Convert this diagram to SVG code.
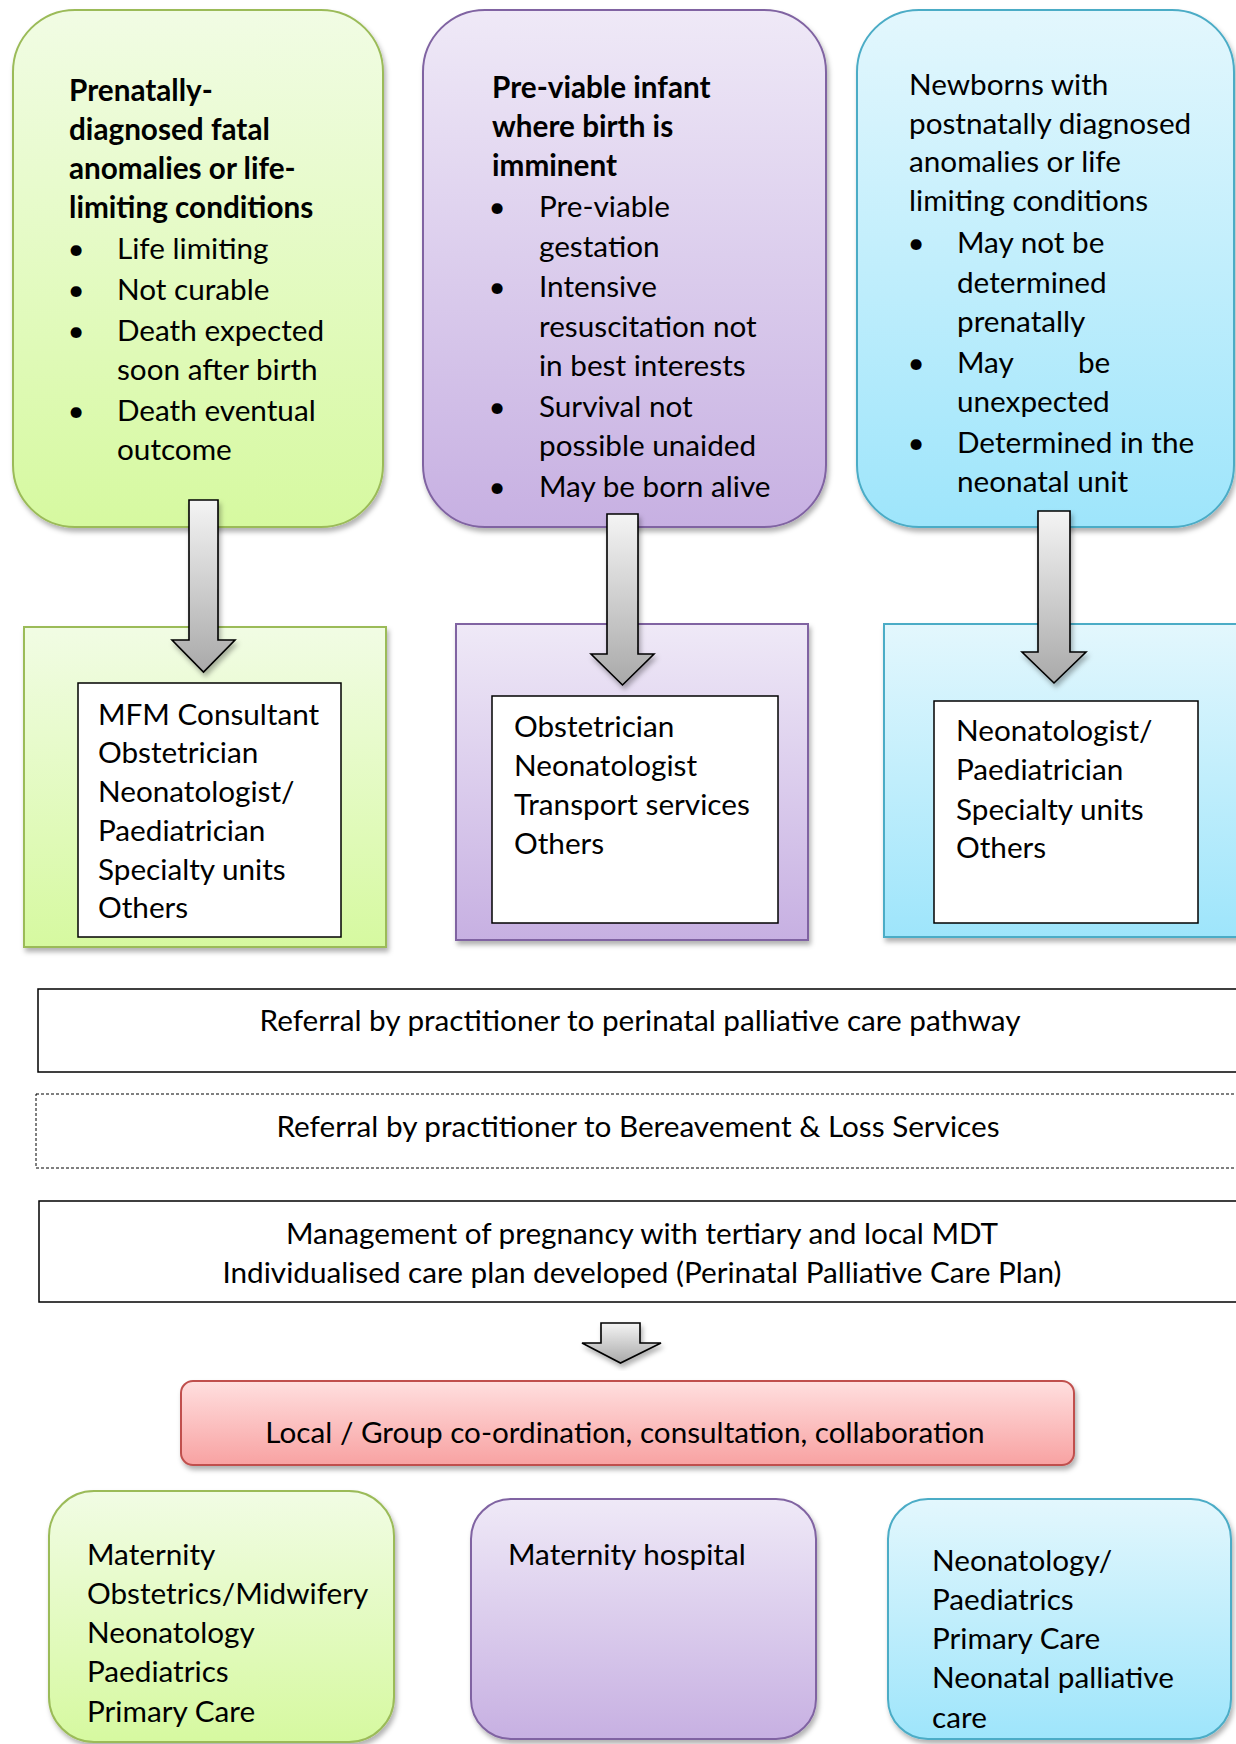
<svg xmlns="http://www.w3.org/2000/svg" width="1236" height="1744" viewBox="0 0 1236 1744">
<defs>
<linearGradient id="gG" x1="0" y1="0" x2="0" y2="1"><stop offset="0" stop-color="#f1fce4"/><stop offset="1" stop-color="#d6f9a0"/></linearGradient>
<linearGradient id="gP" x1="0" y1="0" x2="0" y2="1"><stop offset="0" stop-color="#efe9f7"/><stop offset="1" stop-color="#c7b0e2"/></linearGradient>
<linearGradient id="gB" x1="0" y1="0" x2="0" y2="1"><stop offset="0" stop-color="#e3f7fd"/><stop offset="1" stop-color="#9ee5fb"/></linearGradient>
<linearGradient id="gR" x1="0" y1="0" x2="0" y2="1"><stop offset="0" stop-color="#ffdfdf"/><stop offset="1" stop-color="#f8a2a2"/></linearGradient>
<linearGradient id="gA" x1="0" y1="0" x2="0" y2="1"><stop offset="0" stop-color="#f4f4f4"/><stop offset="1" stop-color="#a9a9a9"/></linearGradient>
<filter id="sh" x="-10%" y="-10%" width="130%" height="130%"><feDropShadow dx="2" dy="4" stdDeviation="2.5" flood-color="#000" flood-opacity="0.3"/></filter>
</defs>
<style>
.t{font-family:Lato,"Liberation Sans",sans-serif;font-size:29.7px;fill:#000}
.b{font-weight:700}
.m{text-anchor:middle}
.gs{stroke:#9bbb59;stroke-width:2}
.ps{stroke:#8064a2;stroke-width:2}
.bs{stroke:#4bacc6;stroke-width:2}
.wb{fill:#fff;stroke:#000;stroke-width:1.5}
.lb{fill:#fff;stroke:#000;stroke-width:1.5}
.arr{fill:url(#gA);stroke:#000;stroke-width:1.6;stroke-linejoin:miter}
</style>
<rect width="1236" height="1744" fill="#fff"/>

<g id="top-green">
<rect x="13" y="10" width="370" height="517" rx="62" fill="url(#gG)" class="gs" filter="url(#sh)"/>
<text class="t b" x="69" y="101">Prenatally-</text>
<text class="t b" x="69" y="140">diagnosed fatal</text>
<text class="t b" x="69" y="179">anomalies or life-</text>
<text class="t b" x="69" y="218">limiting conditions</text>
<text class="t m" x="76" y="259">•</text><text class="t" x="117" y="259">Life limiting</text>
<text class="t m" x="76" y="300">•</text><text class="t" x="117" y="300">Not curable</text>
<text class="t m" x="76" y="341">•</text><text class="t" x="117" y="341">Death expected</text>
<text class="t" x="117" y="380">soon after birth</text>
<text class="t m" x="76" y="421">•</text><text class="t" x="117" y="421">Death eventual</text>
<text class="t" x="117" y="460">outcome</text>
</g>

<g id="top-purple">
<rect x="423" y="10" width="403" height="517" rx="62" fill="url(#gP)" class="ps" filter="url(#sh)"/>
<text class="t b" x="492" y="98">Pre-viable infant</text>
<text class="t b" x="492" y="137">where birth is</text>
<text class="t b" x="492" y="176">imminent</text>
<text class="t m" x="497" y="217">•</text><text class="t" x="539" y="217">Pre-viable</text>
<text class="t" x="539" y="257">gestation</text>
<text class="t m" x="497" y="297">•</text><text class="t" x="539" y="297">Intensive</text>
<text class="t" x="539" y="337">resuscitation not</text>
<text class="t" x="539" y="376">in best interests</text>
<text class="t m" x="497" y="417">•</text><text class="t" x="539" y="417">Survival not</text>
<text class="t" x="539" y="456">possible unaided</text>
<text class="t m" x="497" y="497">•</text><text class="t" x="539" y="497">May be born alive</text>
</g>

<g id="top-blue">
<rect x="857" y="10" width="377" height="517" rx="62" fill="url(#gB)" class="bs" filter="url(#sh)"/>
<text class="t" x="909" y="95">Newborns with</text>
<text class="t" x="909" y="134">postnatally diagnosed</text>
<text class="t" x="909" y="172">anomalies or life</text>
<text class="t" x="909" y="211">limiting conditions</text>
<text class="t m" x="916" y="253">•</text><text class="t" x="957" y="253">May not be</text>
<text class="t" x="957" y="293">determined</text>
<text class="t" x="957" y="332">prenatally</text>
<text class="t m" x="916" y="373">•</text><text class="t" x="957" y="373">May</text><text class="t" x="1078" y="373">be</text>
<text class="t" x="957" y="412">unexpected</text>
<text class="t m" x="916" y="453">•</text><text class="t" x="957" y="453">Determined in the</text>
<text class="t" x="957" y="492">neonatal unit</text>
</g>

<g id="team-green">
<rect x="24" y="627" width="362" height="320" fill="url(#gG)" class="gs" filter="url(#sh)"/>
<rect x="78" y="683" width="263" height="254" class="wb"/>
<text class="t" x="98" y="725">MFM Consultant</text>
<text class="t" x="98" y="763">Obstetrician</text>
<text class="t" x="98" y="802">Neonatologist/</text>
<text class="t" x="98" y="841">Paediatrician</text>
<text class="t" x="98" y="880">Specialty units</text>
<text class="t" x="98" y="918">Others</text>
</g>

<g id="team-purple">
<rect x="456" y="624" width="352" height="316" fill="url(#gP)" class="ps" filter="url(#sh)"/>
<rect x="492" y="696" width="286" height="227" class="wb"/>
<text class="t" x="514" y="737">Obstetrician</text>
<text class="t" x="514" y="776">Neonatologist</text>
<text class="t" x="514" y="815">Transport services</text>
<text class="t" x="514" y="854">Others</text>
</g>

<g id="team-blue">
<rect x="884" y="624" width="360" height="313" fill="url(#gB)" class="bs" filter="url(#sh)"/>
<rect x="934" y="701" width="264" height="222" class="wb"/>
<text class="t" x="956" y="741">Neonatologist/</text>
<text class="t" x="956" y="780">Paediatrician</text>
<text class="t" x="956" y="820">Specialty units</text>
<text class="t" x="956" y="858">Others</text>
</g>

<g id="referral-pathway">
<rect x="38" y="989" width="1220" height="83" class="lb"/>
<text class="t m" x="640" y="1031">Referral by practitioner to perinatal palliative care pathway</text>
</g>

<g id="referral-bereavement">
<rect x="36" y="1094" width="1222" height="74" fill="#fff" stroke="#000" stroke-width="1" stroke-dasharray="3 2"/>
<text class="t m" x="638" y="1137">Referral by practitioner to Bereavement &amp; Loss Services</text>
</g>

<g id="management">
<rect x="39" y="1201" width="1220" height="101" class="lb"/>
<text class="t m" x="642" y="1244">Management of pregnancy with tertiary and local MDT</text>
<text class="t m" x="642" y="1283">Individualised care plan developed (Perinatal Palliative Care Plan)</text>
</g>

<g id="coordination">
<rect x="181" y="1381" width="893" height="84" rx="12" fill="url(#gR)" stroke="#c0504d" stroke-width="2" filter="url(#sh)"/>
<text class="t m" x="625" y="1443">Local / Group co-ordination, consultation, collaboration</text>
</g>

<g id="services-green">
<rect x="49" y="1491" width="345" height="251" rx="45" fill="url(#gG)" class="gs" filter="url(#sh)"/>
<text class="t" x="87" y="1565">Maternity</text>
<text class="t" x="87" y="1604">Obstetrics/Midwifery</text>
<text class="t" x="87" y="1643">Neonatology</text>
<text class="t" x="87" y="1682">Paediatrics</text>
<text class="t" x="87" y="1722">Primary Care</text>
</g>

<g id="services-purple">
<rect x="471" y="1499" width="345" height="240" rx="40" fill="url(#gP)" class="ps" filter="url(#sh)"/>
<text class="t" x="508" y="1565">Maternity hospital</text>
</g>

<g id="services-blue">
<rect x="888" y="1499" width="343" height="240" rx="40" fill="url(#gB)" class="bs" filter="url(#sh)"/>
<text class="t" x="932" y="1571">Neonatology/</text>
<text class="t" x="932" y="1610">Paediatrics</text>
<text class="t" x="932" y="1649">Primary Care</text>
<text class="t" x="932" y="1688">Neonatal palliative</text>
<text class="t" x="932" y="1728">care</text>
</g>

<g id="connectors">
<path class="arr" filter="url(#sh)" d="M189,500 L218,500 L218,640 L235,640 L203.5,672 L172,640 L189,640 Z"/>
<path class="arr" filter="url(#sh)" d="M607,514 L638,514 L638,654 L654,654 L622.5,685 L591,654 L607,654 Z"/>
<path class="arr" filter="url(#sh)" d="M1038,511 L1070,511 L1070,652 L1086,652 L1054,683 L1022,652 L1038,652 Z"/>
<path class="arr" filter="url(#sh)" d="M601,1323 L640,1323 L640,1343 L661,1343 L620.5,1363 L582,1343 L601,1343 Z"/>
</g>
</svg>
